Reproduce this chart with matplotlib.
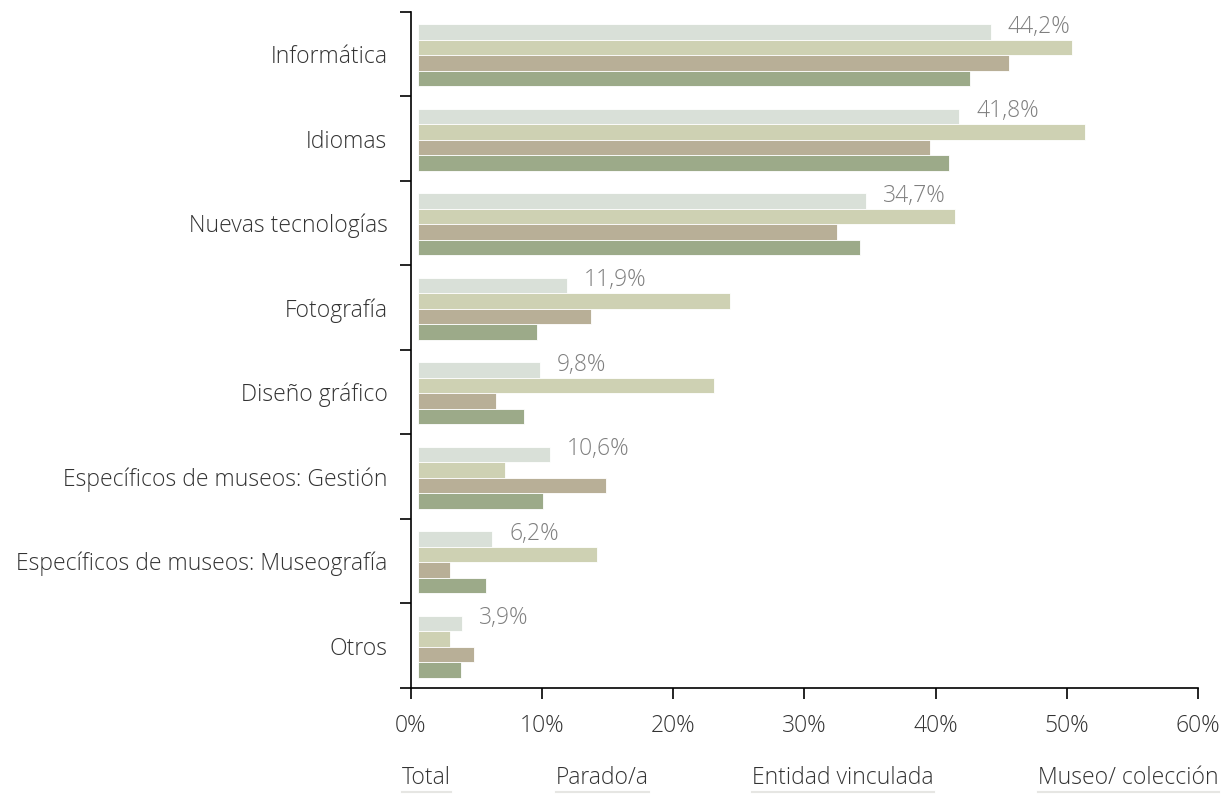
import matplotlib.pyplot as plt
import numpy as np

# datos
categorias = ["Informática", "Idiomas", "Nuevas tecnologías", "Fotografía",
              "Diseño gráfico", "Específicos de museos: Gestión",
              "Específicos de museos: Museografía", "Otros"]
total = [44.2, 41.8, 34.7, 11.9, 9.8, 10.6, 6.2, 3.9]
parado = [50.4, 51.4, 41.5, 24.3, 23.1, 7.2, 14.2, 3.0]
entidad = [45.6, 39.6, 32.5, 13.7, 6.5, 14.9, 3.0, 4.8]
museo = [42.6, 41.0, 34.2, 9.6, 8.6, 10.1, 5.7, 3.8]
series_nombres = ["Total", "Parado/a", "Entidad vinculada", "Museo/ colección"]
colores = ["#d9e0d8", "#ced1b3", "#b8af97", "#9caa89"]
ticks_x = [0, 10, 20, 30, 40, 50, 60]

plt.rcParams['font.family'] = ['Open Sans', 'DejaVu Sans']
plt.rcParams['font.weight'] = 'light'
fs = 16.5

fig = plt.figure(figsize=(12.32, 7.94), dpi=100)
ax = fig.add_axes([0.3336, 0.1335, 0.9724 - 0.3336, 0.9849 - 0.1335])

y = np.arange(len(categorias))
h = 0.183
inicio = 0.55  # las barras arrancan un poco a la derecha del eje
for i, (vals, col) in enumerate(zip([total, parado, entidad, museo], colores)):
    ax.barh(y + (i - 1.5) * h + 0.01, np.array(vals) - inicio, left=inicio,
            height=h, color=col, edgecolor="white", linewidth=0.6)

# etiquetas de valor del total
for yi, v in zip(y, total):
    ax.text(v + 1.3, yi - 1.5 * h - 0.05, f"{v:.1f}%".replace(".", ","),
            va="center", ha="left", fontsize=fs, color="#7f7f7f")

ax.set_xlim(0, 60)
ax.set_ylim(len(categorias) - 0.5, -0.5)
ax.set_xticks(ticks_x)
ax.set_xticklabels([f"{t}%" for t in ticks_x], fontsize=fs, color="#333333")
ax.set_yticks(y)
ax.set_yticklabels(categorias, fontsize=fs, color="#333333")
ax.set_yticks(np.arange(-0.5, len(categorias)), minor=True)
ax.tick_params(axis="y", which="major", length=0, pad=17)
ax.tick_params(axis="y", which="minor", length=8, width=1.2, direction="out")
ax.tick_params(axis="x", length=8, width=1.2, direction="out", pad=11)
ax.spines["top"].set_visible(False)
ax.spines["right"].set_visible(False)
ax.spines["left"].set_linewidth(1.2)
ax.spines["bottom"].set_linewidth(1.2)

# leyenda como texto subrayado
leyenda_x = [402, 556, 752, 1038]
for nombre, lx in zip(series_nombres, leyenda_x):
    t = fig.text(lx / 1232, 1 - 778 / 794, nombre, fontsize=fs, color="#333333",
                 va="center", ha="left")
    fig.canvas.draw()
    bb = t.get_window_extent()
    fig.add_artist(plt.Line2D([bb.x0 / 1232, bb.x1 / 1232],
                              [1 - 792 / 794, 1 - 792 / 794],
                              color="#e6e6e3", linewidth=1.5,
                              transform=fig.transFigure))

fig.savefig("out.png", dpi=100)
